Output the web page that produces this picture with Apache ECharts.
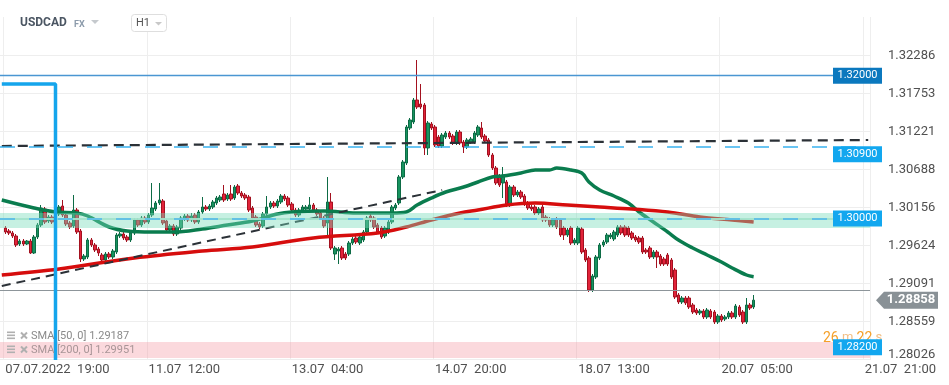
<!DOCTYPE html>
<html><head><meta charset="utf-8">
<script src="https://cdn.jsdelivr.net/npm/echarts@6/dist/echarts.min.js"></script>
<style>html,body{margin:0;padding:0;background:#fff}#c{width:949px;height:385px}</style>
</head><body><div id="c"></div>
<script>
// ---------- data ----------
const xTickLabels = {1:'07.07.2022  19:00', 41:'11.07  12:00', 81:'13.07  04:00', 121:'14.07  20:00', 161:'18.07  13:00', 201:'20.07  05:00', 241:'21.07  21:00'};
const yTickValues = [1.28026,1.28559,1.29091,1.29624,1.30156,1.30688,1.31221,1.31753,1.32286];

const opens = [
1.29868,1.29826,1.29798,1.29756,1.29644,1.29686,1.29644,1.29686,1.29518,1.29742,
1.29910,1.30134,1.29966,1.30022,1.29952,1.30064,1.30176,1.30050,1.29938,1.29896,
1.30120,1.29826,1.29434,1.29462,1.29700,1.29630,1.29574,1.29490,1.29420,1.29504,
1.29462,1.29532,1.29756,1.29784,1.29742,1.29700,1.29798,1.29980,1.29910,1.30008,
1.29952,1.30050,1.30134,1.30218,1.30246,1.29966,1.29840,1.29896,1.29784,1.29868,
1.29994,1.30036,1.29980,1.30050,1.29952,1.30092,1.30162,1.30134,1.30162,1.30218,
1.30260,1.30344,1.30274,1.30344,1.30288,1.30456,1.30358,1.30330,1.30302,1.30148,
1.30022,1.29924,1.29896,1.30064,1.30162,1.30218,1.30176,1.30232,1.30316,1.30288,
1.30204,1.30120,1.30050,1.30106,1.30134,1.30134,1.30190,1.30120,1.30078,1.30008,
1.29938,1.30232,1.29504,1.29546,1.29588,1.29504,1.29504,1.29658,1.29728,1.29658,
1.29700,1.29812,1.30036,1.30008,1.29910,1.29868,1.29756,1.29812,1.29952,1.30148,
1.30218,1.30582,1.30778,1.31268,1.31352,1.31660,1.31604,1.31590,1.30988,1.31324,
1.31282,1.31142,1.31016,1.31142,1.31198,1.31156,1.31058,1.31212,1.31072,1.31002,
1.31072,1.31072,1.31170,1.31268,1.31156,1.31100,1.30890,1.30708,1.30596,1.30498,
1.30512,1.30190,1.30442,1.30330,1.30372,1.30316,1.30218,1.30162,1.30162,1.30078,
1.30162,1.30022,1.29994,1.29910,1.29994,1.29980,1.29868,1.29770,1.29868,1.29658,
1.29658,1.29854,1.29560,1.29448,1.29000,1.29182,1.29448,1.29630,1.29672,1.29742,
1.29714,1.29770,1.29882,1.29882,1.29868,1.29798,1.29742,1.29728,1.29728,1.29560,
1.29588,1.29462,1.29532,1.29476,1.29434,1.29490,1.29420,1.29280,1.28930,1.28832,
1.28888,1.28888,1.28790,1.28720,1.28678,1.28706,1.28622,1.28706,1.28692,1.28552,
1.28636,1.28594,1.28622,1.28678,1.28622,1.28762,1.28692,1.28552,1.28790,1.28762];

const closes = [
1.29812,1.29798,1.29756,1.29630,1.29686,1.29644,1.29686,1.29518,1.29742,1.29910,
1.30148,1.29952,1.30022,1.29952,1.30064,1.30162,1.30050,1.29924,1.29882,1.30120,
1.29812,1.29434,1.29476,1.29700,1.29630,1.29560,1.29518,1.29420,1.29504,1.29462,
1.29546,1.29770,1.29784,1.29728,1.29700,1.29798,1.29980,1.29910,1.30008,1.29952,
1.30050,1.30148,1.30218,1.30260,1.29938,1.29840,1.29896,1.29784,1.29882,1.30008,
1.30036,1.29980,1.30036,1.29952,1.30092,1.30162,1.30134,1.30176,1.30232,1.30288,
1.30302,1.30260,1.30330,1.30274,1.30442,1.30358,1.30316,1.30288,1.30120,1.30008,
1.29910,1.29882,1.30064,1.30162,1.30218,1.30176,1.30246,1.30316,1.30274,1.30190,
1.30120,1.30050,1.30120,1.30162,1.30162,1.30190,1.30120,1.30064,1.30008,1.29896,
1.30232,1.29588,1.29588,1.29574,1.29448,1.29448,1.29658,1.29714,1.29672,1.29742,
1.29812,1.30008,1.29980,1.29882,1.29812,1.29742,1.29868,1.29952,1.30162,1.30190,
1.30582,1.30792,1.31282,1.31380,1.31660,1.31562,1.31562,1.30988,1.31338,1.31268,
1.31030,1.31016,1.31170,1.31198,1.31142,1.31058,1.31212,1.31058,1.31002,1.31100,
1.31114,1.31198,1.31282,1.31142,1.31086,1.30890,1.30708,1.30498,1.30470,1.30610,
1.30190,1.30442,1.30330,1.30372,1.30302,1.30204,1.30148,1.30134,1.30078,1.30134,
1.29980,1.29980,1.29910,1.29980,1.29882,1.29770,1.29770,1.29840,1.29658,1.29700,
1.29868,1.29532,1.29420,1.29000,1.29196,1.29462,1.29630,1.29672,1.29770,1.29770,
1.29812,1.29882,1.29798,1.29770,1.29770,1.29728,1.29700,1.29672,1.29532,1.29532,
1.29462,1.29532,1.29462,1.29364,1.29364,1.29364,1.29182,1.28902,1.28832,1.28888,
1.28818,1.28762,1.28692,1.28678,1.28706,1.28622,1.28720,1.28622,1.28552,1.28636,
1.28580,1.28622,1.28678,1.28622,1.28776,1.28650,1.28552,1.28790,1.28748,1.28858];

const lows = [
1.29784,1.29770,1.29728,1.29602,1.29616,1.29616,1.29630,1.29504,1.29504,1.29714,
1.29882,1.29924,1.29938,1.29924,1.29924,1.30036,1.30022,1.29896,1.29854,1.29868,
1.29784,1.29392,1.29406,1.29434,1.29602,1.29532,1.29476,1.29392,1.29392,1.29434,
1.29434,1.29504,1.29728,1.29700,1.29672,1.29672,1.29770,1.29882,1.29882,1.29924,
1.29924,1.30022,1.30106,1.30190,1.29910,1.29812,1.29812,1.29756,1.29756,1.29840,
1.29966,1.29952,1.29952,1.29924,1.29924,1.30064,1.30106,1.30106,1.30134,1.30190,
1.30232,1.30232,1.30246,1.30246,1.30260,1.30330,1.30288,1.30260,1.30092,1.29980,
1.29882,1.29854,1.29868,1.30036,1.30134,1.30148,1.30148,1.30204,1.30246,1.30162,
1.30092,1.30022,1.30022,1.30078,1.30106,1.30106,1.30092,1.30036,1.29980,1.29868,
1.29770,1.29560,1.29420,1.29364,1.29420,1.29420,1.29476,1.29630,1.29644,1.29630,
1.29672,1.29784,1.29952,1.29854,1.29784,1.29714,1.29728,1.29784,1.29924,1.30120,
1.30190,1.30554,1.30750,1.31240,1.31324,1.31534,1.31534,1.30890,1.30890,1.31240,
1.31002,1.30988,1.30988,1.31114,1.31114,1.31030,1.31030,1.31030,1.30918,1.30974,
1.31044,1.31044,1.31142,1.31114,1.31058,1.30862,1.30680,1.30470,1.30442,1.30288,
1.30162,1.30162,1.30302,1.30302,1.30274,1.30176,1.30120,1.30106,1.30050,1.30050,
1.29952,1.29952,1.29882,1.29882,1.29854,1.29742,1.29700,1.29742,1.29630,1.29630,
1.29630,1.29504,1.29392,1.28972,1.28972,1.29154,1.29420,1.29602,1.29644,1.29714,
1.29686,1.29742,1.29770,1.29742,1.29742,1.29700,1.29672,1.29644,1.29504,1.29504,
1.29434,1.29434,1.29308,1.29336,1.29336,1.29336,1.29154,1.28874,1.28804,1.28804,
1.28790,1.28734,1.28664,1.28650,1.28650,1.28594,1.28594,1.28594,1.28524,1.28524,
1.28552,1.28566,1.28594,1.28594,1.28594,1.28622,1.28524,1.28524,1.28720,1.28734];

const highs = [
1.29896,1.29854,1.29826,1.29784,1.29714,1.29714,1.29700,1.29714,1.29770,1.29938,
1.30190,1.30162,1.30050,1.30050,1.30092,1.30190,1.30260,1.30078,1.29966,1.30330,
1.30148,1.29854,1.29504,1.29728,1.29728,1.29658,1.29602,1.29518,1.29532,1.29532,
1.29574,1.29798,1.29812,1.29812,1.29770,1.29826,1.30008,1.30008,1.30036,1.30036,
1.30078,1.30498,1.30246,1.30498,1.30274,1.29994,1.29924,1.29924,1.29910,1.30036,
1.30064,1.30064,1.30078,1.30078,1.30120,1.30302,1.30190,1.30204,1.30260,1.30316,
1.30330,1.30470,1.30358,1.30470,1.30470,1.30484,1.30386,1.30358,1.30330,1.30176,
1.30050,1.29952,1.30092,1.30316,1.30246,1.30246,1.30274,1.30344,1.30344,1.30316,
1.30232,1.30148,1.30148,1.30190,1.30190,1.30302,1.30218,1.30148,1.30106,1.30036,
1.30582,1.30358,1.29616,1.29602,1.29616,1.29532,1.29686,1.29742,1.29756,1.29770,
1.29840,1.30036,1.30064,1.30036,1.29938,1.29896,1.29896,1.29980,1.30190,1.30218,
1.30610,1.30820,1.31310,1.31408,1.31688,1.32220,1.31884,1.31618,1.31366,1.31352,
1.31310,1.31170,1.31198,1.31226,1.31226,1.31184,1.31240,1.31240,1.31100,1.31128,
1.31142,1.31226,1.31310,1.31352,1.31184,1.31128,1.30918,1.30736,1.30624,1.30722,
1.30540,1.30470,1.30470,1.30400,1.30400,1.30344,1.30246,1.30190,1.30190,1.30162,
1.30190,1.30050,1.30022,1.30008,1.30022,1.30008,1.29896,1.29868,1.29896,1.29728,
1.29896,1.29882,1.29588,1.29476,1.29224,1.29490,1.29658,1.29700,1.29798,1.29798,
1.29840,1.29910,1.29910,1.29910,1.29896,1.29826,1.29770,1.29756,1.29756,1.29588,
1.29616,1.29560,1.29560,1.29504,1.29462,1.29518,1.29448,1.29308,1.28958,1.28916,
1.28916,1.28916,1.28818,1.28748,1.28734,1.28734,1.28748,1.28734,1.28720,1.28664,
1.28664,1.28650,1.28706,1.28706,1.28804,1.28790,1.28720,1.28888,1.28818,1.28930];

const sma50Idx = [0,9,15,21,24,30,35,42,48,56,63,70,77,81,90,99,109,113,116,120,124,129,133,137,140,145,149,153,155,159,162,164,167,171,175,178,182,186,189,193,197,201,204,208,210];
const sma50Val = [1.30260,1.30148,1.30092,1.30078,1.30036,1.29882,1.29826,1.29812,1.29812,1.29854,1.29910,1.29966,1.30064,1.30092,1.30106,1.30078,1.30078,1.30092,1.30190,1.30288,1.30372,1.30442,1.30512,1.30582,1.30596,1.30638,1.30680,1.30680,1.30708,1.30680,1.30638,1.30512,1.30400,1.30316,1.30218,1.30092,1.29952,1.29812,1.29700,1.29588,1.29490,1.29392,1.29308,1.29210,1.29187];
const sma200Idx = [0,16,37,56,70,87,105,113,120,128,133,141,149,158,167,176,186,195,204,210];
const sma200Val = [1.29210,1.29294,1.29448,1.29546,1.29602,1.29728,1.29798,1.29882,1.29980,1.30078,1.30120,1.30190,1.30218,1.30190,1.30162,1.30134,1.30092,1.30022,1.29980,1.29951];

const resistIdx = [0, 242];   const resistVal = [1.31016, 1.31100];
const supportIdx = [0, 123];  const supportVal = [1.29056, 1.30400];
const boxIdx = [0, 15, 15];   const boxVal = [1.31884, 1.31884, 1.28020];

const levels = [1.32000, 1.30900, 1.30000, 1.28200];
const lastPrice = 1.28858;
const greenZone = [1.29868, 1.30078];
const redZone = [1.28048, 1.28272];
const yMin = 1.28020, yMax = 1.32822;

// ---------- chart ----------
const cats = Array.from({length: 243}, (_, k) => String(k));
const candleData = opens.map((o, i) => [i + 1, o, closes[i], lows[i], highs[i]]);
const pairs = (a, b) => a.map((k, j) => [k, b[j]]);
const F = 'Roboto, "Noto Sans", sans-serif';

const chart = echarts.init(document.getElementById('c'));
chart.setOption({
  animation: false,
  grid: {left: 0, right: 79, top: 17, bottom: 25},
  xAxis: {
    type: 'category', data: cats, boundaryGap: true,
    axisLine: {show: false}, axisTick: {show: false},
    axisLabel: {
      interval: (idx) => xTickLabels[idx] !== undefined,
      formatter: (v) => xTickLabels[v] || '',
      align: 'left', color: '#505050', fontSize: 13, fontFamily: F, margin: 3
    },
    splitLine: {show: true, interval: (idx) => xTickLabels[idx] !== undefined, lineStyle: {color: '#eeeeee'}}
  },
  yAxis: {
    type: 'value', position: 'right', min: yMin, max: yMax,
    axisLine: {show: false},
    axisTick: {show: false, customValues: yTickValues},
    axisLabel: {
      customValues: yTickValues, margin: 18, color: '#505050', fontSize: 13, fontFamily: F,
      formatter: (v) => (Math.abs(v - yTickValues[0]) < 1e-7 ? '{lo|' + v.toFixed(5) + '}' : v.toFixed(5)),
      rich: {lo: {color: '#505050', fontSize: 13, fontFamily: F, padding: [0, 0, 10, 0]}}
    },
    splitLine: {show: true, lineStyle: {color: '#eeeeee'}}
  },
  series: [
    {
      type: 'candlestick', data: candleData, encode: {x: 0, y: [1, 2, 3, 4]},
      barWidth: 3, z: 2, silent: true,
      itemStyle: {color: '#17935f', color0: '#e2233a', borderColor: '#0d6b45', borderColor0: '#a3111f', borderWidth: 1}
    },
    {type: 'line', data: pairs(sma50Idx, sma50Val), smooth: 0.35, symbol: 'none', silent: true, z: 3,
     lineStyle: {color: '#0a7c4e', width: 3.5}},
    {type: 'line', data: pairs(sma200Idx, sma200Val), smooth: 0.35, symbol: 'none', silent: true, z: 3,
     lineStyle: {color: '#d60d0d', width: 3.5}},
    {type: 'line', data: pairs(resistIdx, resistVal), symbol: 'none', silent: true, z: 3,
     lineStyle: {color: '#2b3137', width: 2.2, type: [10, 6]}},
    {type: 'line', data: pairs(supportIdx, supportVal), symbol: 'none', silent: true, z: 3,
     lineStyle: {color: '#2b3137', width: 2, type: [9, 6]}},
    {
      type: 'line', data: [], silent: true,
      markArea: {silent: true, z: 4, data: [
        [{yAxis: greenZone[0], itemStyle: {color: 'rgba(120,220,185,0.42)'}}, {yAxis: greenZone[1]}],
        [{yAxis: redZone[0], itemStyle: {color: 'rgba(245,150,160,0.36)'}}, {yAxis: redZone[1]}]
      ]},
      markLine: {silent: true, z: 5, symbol: ['none', 'none'], label: {show: false}, data: [
        {yAxis: greenZone[0], lineStyle: {color: '#a5e3cc', width: 1.5, type: 'solid'}},
        {yAxis: greenZone[1], lineStyle: {color: '#a5e3cc', width: 1.5, type: 'solid'}},
        {yAxis: redZone[0], lineStyle: {color: '#f2a6ac', width: 2, type: 'solid'}},
        {yAxis: redZone[1], lineStyle: {color: '#f2a6ac', width: 2, type: 'solid'}},
        {yAxis: levels[0], lineStyle: {color: '#4a96d2', width: 1.3, type: 'solid'}},
        {yAxis: levels[1], lineStyle: {color: '#3ab2ef', width: 1.5, type: [15, 14]}},
        {yAxis: levels[2], lineStyle: {color: '#4cb7ec', width: 1.5, type: [15, 14]}},
        {yAxis: levels[3], lineStyle: {color: '#98b2d0', width: 1.5, type: [15, 14]}},
        {yAxis: lastPrice, lineStyle: {color: '#8d959a', width: 1, type: 'solid'}}
      ]}
    },
    {type: 'line', data: pairs(boxIdx, boxVal), symbol: 'none', silent: true, z: 7,
     lineStyle: {color: '#15a5ec', width: 3.5}}
  ]
});

// ---------- annotations (tags, header, legend) ----------
const py = (v) => chart.convertToPixel({yAxisIndex: 0}, v);
const g = [];
// header
g.push({type: 'text', x: 20, y: 23, z: 100, style: {text: 'USDCAD', font: 'bold 12px ' + F, fill: '#4b5663', verticalAlign: 'middle'}});
g.push({type: 'text', x: 74, y: 24.5, z: 100, style: {text: 'FX', font: 'bold 9px ' + F, fill: '#8c9bab', verticalAlign: 'middle'}});
g.push({type: 'polygon', z: 100, shape: {points: [[91, 20], [99, 20], [95, 24]]}, style: {fill: '#c5c9cd'}});
g.push({type: 'rect', z: 100, shape: {x: 131.5, y: 14.5, width: 35, height: 17, r: 3}, style: {fill: '#fff', stroke: '#dedede', lineWidth: 1}});
g.push({type: 'text', x: 136, y: 23.5, z: 101, style: {text: 'H1', font: '11px ' + F, fill: '#555', verticalAlign: 'middle'}});
g.push({type: 'polygon', z: 101, shape: {points: [[155, 22], [162, 22], [158.5, 25.5]]}, style: {fill: '#c8c8c8'}});
// legend
function legendRow(y, text, col) {
  g.push({type: 'rect', z: 100, shape: {x: 7, y: y - 4.5, width: 8, height: 1.6}, style: {fill: '#b0b0b0'}});
  g.push({type: 'rect', z: 100, shape: {x: 7, y: y - 1.5, width: 8, height: 1.6}, style: {fill: '#b0b0b0'}});
  g.push({type: 'rect', z: 100, shape: {x: 7, y: y + 1.5, width: 8, height: 1.6}, style: {fill: '#b0b0b0'}});
  g.push({type: 'line', z: 100, shape: {x1: 21, y1: y - 3.5, x2: 27, y2: y + 2.5}, style: {stroke: '#b0b0b0', lineWidth: 2}});
  g.push({type: 'line', z: 100, shape: {x1: 21, y1: y + 2.5, x2: 27, y2: y - 3.5}, style: {stroke: '#b0b0b0', lineWidth: 2}});
  g.push({type: 'text', x: 31, y: y, z: 100, style: {text: text, font: '11px ' + F, fill: col, verticalAlign: 'middle'}});
}
legendRow(336, 'SMA [50, 0] 1.29187', '#8a8a8a');
legendRow(350, 'SMA [200, 0] 1.29951', '#a89597');
// countdown
g.push({type: 'text', x: 823, y: 338, z: 100, style: {
  text: '{a|26}{b| m }{a|22}{b| s}', verticalAlign: 'middle',
  rich: {a: {fill: '#f5a02a', fontSize: 14, fontFamily: F}, b: {fill: '#f2bf86', fontSize: 13, fontFamily: F}}
}});
// level tags
const tagCols = ['#0b78be', '#12a7ef', '#12a7ef', '#12a7ef'];
levels.forEach((v, j) => {
  const y = py(v);
  g.push({type: 'rect', z: 110, shape: {x: 833, y: y - 8, width: 49, height: 16}, style: {fill: tagCols[j]}});
  g.push({type: 'text', x: 857.5, y: y, z: 111, style: {text: v.toFixed(5), font: '11px ' + F, fill: '#fff', align: 'center', verticalAlign: 'middle'}});
});
// last price tag
const yl = py(lastPrice);
g.push({type: 'polygon', z: 110, shape: {points: [[876, yl], [884, yl - 8.5], [938, yl - 8.5], [938, yl + 8.5], [884, yl + 8.5]]}, style: {fill: '#899196'}});
g.push({type: 'text', x: 911, y: yl, z: 111, style: {text: lastPrice.toFixed(5), font: 'bold 13px ' + F, fill: '#fff', align: 'center', verticalAlign: 'middle'}});

chart.setOption({graphic: g});
</script>
</body></html>
